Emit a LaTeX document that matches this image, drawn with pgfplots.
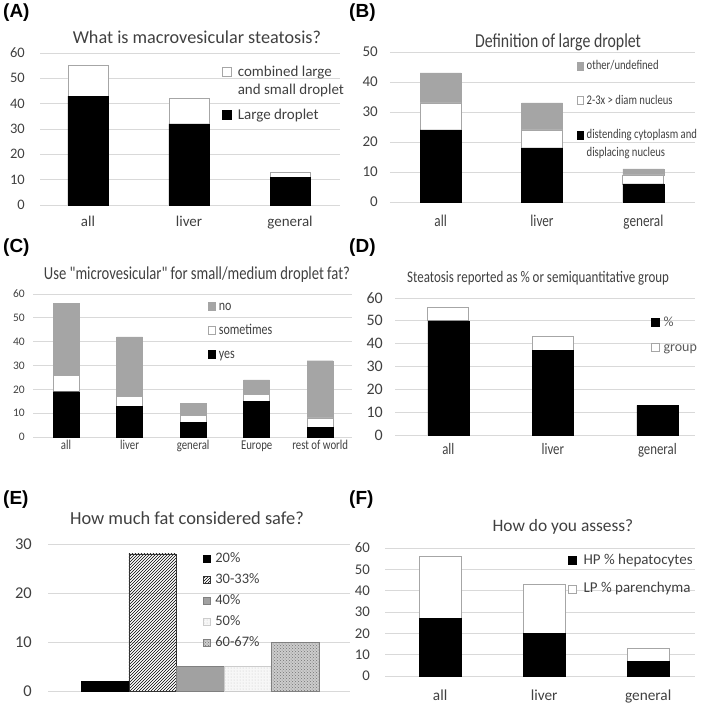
\documentclass[border=0pt]{standalone}
\usepackage{fontspec}
\setmainfont{Carlito}
\newfontfamily\cond[FakeStretch=0.8]{Carlito}
\newfontfamily\lab{Liberation Sans}
\usepackage{pgfplots}
\pgfplotsset{compat=1.18}
\usetikzlibrary{patterns}
\definecolor{txt}{HTML}{404040}
\definecolor{txtg}{HTML}{595959}
\definecolor{gridc}{HTML}{D9D9D9}
\definecolor{barg}{HTML}{A5A5A5}
\definecolor{edge}{HTML}{A6A6A6}
\newcommand{\fs}[1]{\fontsize{#1}{#1}\selectfont}
\newcommand{\lent}[2]{\rule{0pt}{#1pt}\smash{#2}}
\pgfplotsset{
  panel/.style={
    scale only axis, anchor=south west, ymin=0, clip=false,
    axis line style={draw=none}, major tick length=0pt,
    ymajorgrids, grid style={draw=gridc, line width=0.8pt},
    /pgf/number format/assume math mode=true,
    tick label style={text=txt},
    yticklabel style={anchor=east, inner sep=0pt},
    xticklabel style={anchor=base, inner sep=0pt},
    title style={anchor=center, inner sep=0pt, yshift=-6pt, text=txt},
    legend style={draw=none, fill=none, anchor=north west, inner sep=0pt, outer sep=0pt,
      row sep=0pt, text=txt, nodes={inner sep=0pt, outer sep=0pt}, cells={anchor=base west}},
  },
  bbar/.style={fill=black, draw=black, line width=0.4pt},
  wbar/.style={fill=white, draw=edge, line width=0.7pt},
  gbar/.style={fill=barg, draw=barg, line width=0.4pt},
  sq/.style n args={2}{legend image code/.code={\draw[##1] (0pt,0pt) rectangle (#1pt,#2pt);}},
}
\begin{document}
\begin{tikzpicture}
\useasboundingbox (0,0) rectangle (709pt,707pt);
% panel labels
\node[anchor=west, font=\lab\bfseries\fs{19}, inner sep=0pt] at (3pt,694pt) {(A)};
\node[anchor=west, font=\lab\bfseries\fs{19}, inner sep=0pt] at (349pt,694pt) {(B)};
\node[anchor=west, font=\lab\bfseries\fs{19}, inner sep=0pt] at (3pt,459pt) {(C)};
\node[anchor=west, font=\lab\bfseries\fs{19}, inner sep=0pt] at (349pt,459pt) {(D)};
\node[anchor=west, font=\lab\bfseries\fs{19}, inner sep=0pt] at (3pt,207pt) {(E)};
\node[anchor=west, font=\lab\bfseries\fs{19}, inner sep=0pt] at (349pt,207pt) {(F)};

% ---------------- A
\begin{axis}[panel, at={(40pt,502pt)}, width=300pt, height=152pt,
  xmin=-0.475, xmax=2.495, ymax=60, ytick={0,10,...,60},
  xtick={0,1,2}, xticklabels={all,liver,general},
  ybar stacked, bar width=40pt,
  yticklabel style={xshift=-15pt, font=\fs{14.5}},
  xticklabel style={yshift=-22pt, font=\fs{15}},
  title={What is macrovesicular steatosis?},
  title style={at={(0.523,1.105)}, font=\fs{18.2}},
  legend style={at={(0.607,0.924)}, font=\fs{15}, column sep=6pt},
]
\addlegendimage{wbar, sq={9}{9}}\addlegendentry{\lent{12}{combined large}}
\addlegendimage{empty legend}\addlegendentry{\lent{16}{and small droplet}}
\addlegendimage{bbar, sq={9}{9}}\addlegendentry{\lent{24}{Large droplet}}
\addplot[bbar, forget plot] coordinates {(0,43) (1,32) (2,11)};
\addplot[wbar, forget plot] coordinates {(0,12) (1,10) (2,2)};
\end{axis}

% ---------------- B
\begin{axis}[panel, at={(390pt,505pt)}, width=305pt, height=150pt,
  xmin=-0.5, xmax=2.51, ymax=50, ytick={0,10,...,50},
  xtick={0,1,2}, xticklabels={all,liver,general},
  ybar stacked, bar width=41pt,
  yticklabel style={xshift=-12pt, font=\fs{15}},
  xticklabel style={yshift=-25pt, font=\cond\fs{16.5}},
  title={Definition of large droplet},
  title style={at={(0.551,1.067)}, font=\cond\fs{19.8}},
  legend style={at={(0.613,0.955)}, font=\cond\fs{13.3}, column sep=3pt},
]
\addlegendimage{gbar, sq={6}{8}}\addlegendentry{\lent{11}{other/undefined}}
\addlegendimage{wbar, sq={6}{8}}\addlegendentry{\lent{33}{2-3x > diam nucleus}}
\addlegendimage{bbar, sq={6}{8}}\addlegendentry{\lent{33}{distending cytoplasm and}}
\addlegendimage{empty legend}\addlegendentry{\lent{16}{displacing nucleus}}
\addplot[bbar, forget plot] coordinates {(0,24) (1,18) (2,6)};
\addplot[wbar, forget plot] coordinates {(0,9) (1,6) (2,3)};
\addplot[gbar, forget plot] coordinates {(0,10) (1,9) (2,2)};
\end{axis}

% ---------------- C
\begin{axis}[panel, at={(33pt,270pt)}, width=319pt, height=143pt,
  xmin=-0.52, xmax=4.5, ymax=60, ytick={0,10,...,60},
  xtick={0,1,2,3,4}, xticklabels={all,liver,general,Europe,rest of world},
  ybar stacked, bar width=26pt,
  yticklabel style={xshift=-8pt, font=\fs{11.5}},
  xticklabel style={yshift=-13pt, font=\cond\fs{13.5}},
  title={Use "microvesicular" for small/medium droplet fat?},
  title style={at={(0.514,1.133)}, font=\cond\fs{18.3}},
  legend style={at={(0.549,0.97)}, font=\cond\fs{15}, column sep=3pt},
]
\addlegendimage{gbar, sq={7}{8}}\addlegendentry{\lent{12}{no}}
\addlegendimage{wbar, sq={7}{8}}\addlegendentry{\lent{22.5}{sometimes}}
\addlegendimage{bbar, sq={7}{8}}\addlegendentry{\lent{22.5}{yes}}
\addplot[bbar, forget plot] coordinates {(0,19) (1,13) (2,6) (3,15) (4,4)};
\addplot[wbar, forget plot] coordinates {(0,7) (1,4) (2,3) (3,3) (4,4)};
\addplot[gbar, forget plot] coordinates {(0,30) (1,25) (2,5) (3,6) (4,24)};
\end{axis}

% ---------------- D
\begin{axis}[panel, at={(395pt,272pt)}, width=300pt, height=137pt,
  xmin=-0.51, xmax=2.36, ymax=60, ytick={0,10,...,60},
  xtick={0,1,2}, xticklabels={all,liver,general},
  ybar stacked, bar width=41pt,
  yticklabel style={xshift=-12pt, font=\fs{16}},
  xticklabel style={yshift=-20pt, font=\cond\fs{16}},
  title={Steatosis reported as \% or semiquantitative group},
  title style={at={(0.477,1.146)}, font=\cond\fs{16.2}},
  legend style={at={(0.853,0.883)}, font=\fs{14}, text=txtg, column sep=4pt},
]
\addlegendimage{bbar, sq={8}{8}}\addlegendentry{\lent{12}{\%}}
\addlegendimage{wbar, sq={8}{8}}\addlegendentry{\lent{24}{group}}
\addplot[bbar, forget plot] coordinates {(0,50) (1,37) (2,13)};
\addplot[wbar, forget plot] coordinates {(0,6) (1,6) (2,0)};
\end{axis}

% ---------------- E
\begin{axis}[panel, at={(48pt,16pt)}, width=302pt, height=147pt,
  xmin=-1.2, xmax=5.15, ymax=30, ytick={0,10,20,30},
  xtick=\empty,
  yticklabel style={xshift=-16pt, font=\fs{16.5}},
  title={How much fat considered safe?},
  title style={at={(0.46,1.177)}, font=\fs{18.4}},
  legend style={at={(0.513,0.956)}, font=\fs{14.5}, column sep=5pt},
]
\addplot[ybar, bar width=47.6pt, bar shift=0pt, fill=black, draw=black, sq={7}{7}] coordinates {(0,2)};
\addlegendentry{\lent{12}{20\%}}
\addplot[ybar, bar width=47.6pt, bar shift=0pt, pattern=north east lines, draw=black!80, sq={7}{7}] coordinates {(1,28)};
\addlegendentry{\lent{19.5}{30-33\%}}
\addplot[ybar, bar width=47.6pt, bar shift=0pt, fill=black!37, draw=black!50, sq={7}{7}] coordinates {(2,5)};
\addlegendentry{\lent{19.5}{40\%}}
\addplot[ybar, bar width=47.6pt, bar shift=0pt, fill=black!3, postaction={pattern=dots, pattern color=black!22}, draw=black!20, sq={7}{7}] coordinates {(3,5)};
\addlegendentry{\lent{19.5}{50\%}}
\addplot[ybar, bar width=47.6pt, bar shift=0pt, fill=black!20, postaction={pattern=crosshatch dots, pattern color=black!55}, draw=black!50, sq={7}{7}] coordinates {(4,10)};
\addlegendentry{\lent{19.5}{60-67\%}}
\end{axis}

% ---------------- F
\begin{axis}[panel, at={(385pt,31pt)}, width=310pt, height=128pt,
  xmin=-0.53, xmax=2.45, ymax=60, ytick={0,10,...,60},
  xtick={0,1,2}, xticklabels={all,liver,general},
  ybar stacked, bar width=42pt,
  yticklabel style={xshift=-15pt, font=\fs{14.8}},
  xticklabel style={yshift=-24pt, font=\fs{15.3}},
  title={How do you assess?},
  title style={at={(0.574,1.164)}, font=\fs{17.4}},
  legend style={at={(0.59,0.965)}, font=\fs{15}, column sep=7pt},
]
\addlegendimage{bbar, sq={8}{8}}\addlegendentry{\lent{12}{HP \% hepatocytes}}
\addlegendimage{wbar, sq={8}{8}}\addlegendentry{\lent{27}{LP \% parenchyma}}
\addplot[bbar, forget plot] coordinates {(0,27) (1,20) (2,7)};
\addplot[wbar, forget plot] coordinates {(0,29) (1,23) (2,6)};
\end{axis}
\end{tikzpicture}
\end{document}
